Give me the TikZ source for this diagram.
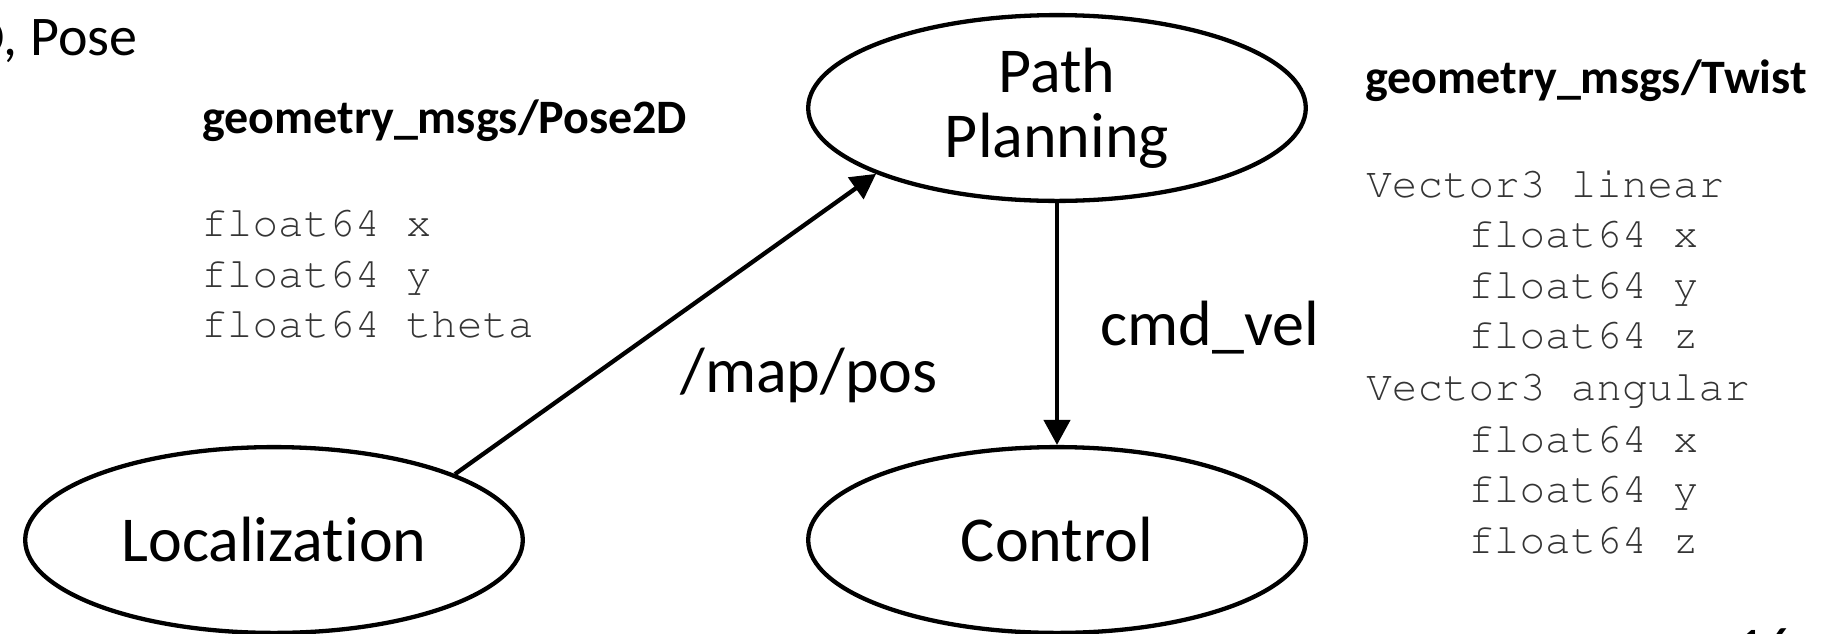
\documentclass[tikz,border=0pt]{standalone}
\usepackage[T1]{fontenc}
\usepackage{fontspec}
\setmainfont{Carlito}[Ligatures={NoCommon}]
\usetikzlibrary{arrows.meta,shapes.geometric}
\definecolor{monogray}{RGB}{52,52,52}
\newcommand{\crfont}{\fontencoding{T1}\fontfamily{pcr}\fontsize{21.3}{25}\selectfont}
\begin{document}
\begin{tikzpicture}[x=0.5pt,y=-0.5pt,
  proc/.style={ellipse, draw, line width=2.15pt, minimum width=248.8pt, minimum height=92.9pt,
    inner sep=0pt, align=center, font=\fontsize{32}{32.5}\selectfont},
  topic/.style={font=\fontsize{32}{38}\selectfont, inner sep=0pt},
  head/.style={font=\bfseries\fontsize{24}{29}\selectfont, inner sep=0pt, anchor=base west},
  code/.style={font=\crfont, text=monogray, inner sep=0pt, anchor=base west},
  link/.style={line width=2.15pt, -{Triangle[length=12.5pt,width=13pt]}}]
\useasboundingbox (0,0) rectangle (1832,633);
\clip (0,0) rectangle (1832,633);

% processes
\node[proc] (pp) at (1057,108) {Path\\Planning};
\node[proc] (loc) at (274,540) {Localization};
\node[proc] (ctl) at (1057,540) {Control};

% connectors
\draw[link] (loc.20.6) -- (pp.200.6);
\draw[link] (pp.south) -- (ctl.north);

% topic labels
\node[topic, anchor=base east] (mappos) at (938,392) {/map/pos};
\node[topic, anchor=base west] (cmdvel) at (1100,345) {cmd\_vel};

% cut title and page number
\node[font=\fontsize{28}{34}\selectfont, inner sep=0pt, anchor=base east] (title) at (138,55) {D, Pose};
\node[font=\fontsize{28}{34}\selectfont, inner sep=0pt, anchor=north west] (pagenum) at (1736,628) {16};

% Pose2D message
\node[head] (hpose) at (202,133) {geometry\_msgs/Pose2D};
\node[code] (p1) at (201,236) {float64 x};
\node[code] (p2) at (201,287) {float64 y};
\node[code] (p3) at (201,337) {float64 theta};

% Twist message
\node[head] (htwist) at (1365,93) {geometry\_msgs/Twist};
\node[code] (t1) at (1366,197) {Vector3 linear};
\node[code] (t2) at (1468,247) {float64 x};
\node[code] (t3) at (1468,298) {float64 y};
\node[code] (t4) at (1468,348) {float64 z};
\node[code] (t5) at (1366,400) {Vector3 angular};
\node[code] (t6) at (1468,452) {float64 x};
\node[code] (t7) at (1468,502) {float64 y};
\node[code] (t8) at (1468,553) {float64 z};
\end{tikzpicture}
\end{document}
